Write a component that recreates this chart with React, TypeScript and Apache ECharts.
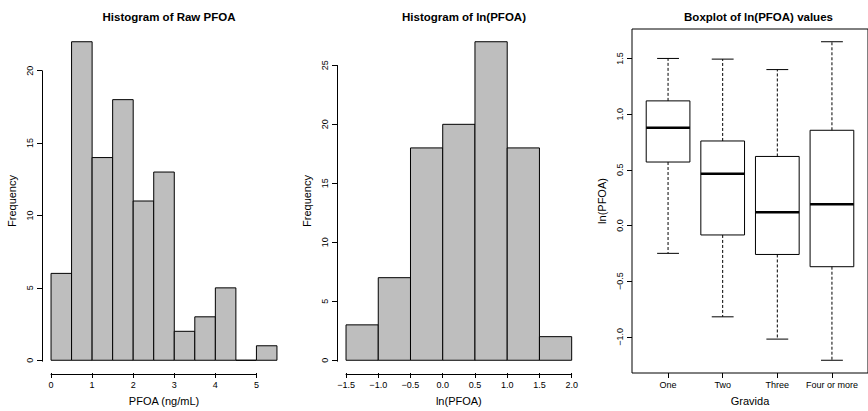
import React, { useEffect, useRef } from "react";
import * as echarts from "echarts";

// ---- data ----
const rawBinStarts = [0, 0.5, 1, 1.5, 2, 2.5, 3, 3.5, 4, 4.5, 5];
const rawCounts = [6, 22, 14, 18, 11, 13, 2, 3, 5, 0, 1];
const rawTicksX = [0, 1, 2, 3, 4, 5];
const rawTicksY = [0, 5, 10, 15, 20];

const lnBinStarts = [-1.5, -1, -0.5, 0, 0.5, 1, 1.5];
const lnCounts = [3, 7, 18, 20, 27, 18, 2];
const lnTicksX = [-1.5, -1, -0.5, 0, 0.5, 1, 1.5, 2];
const lnTicksY = [0, 5, 10, 15, 20, 25];

const categories = ["One", "Two", "Three", "Four or more"];
const boxLow = [-0.25, -0.82, -1.02, -1.21];
const boxQ1 = [0.57, -0.085, -0.26, -0.37];
const boxMedian = [0.878, 0.464, 0.12, 0.19];
const boxQ3 = [1.119, 0.759, 0.62, 0.855];
const boxHigh = [1.5, 1.494, 1.4, 1.65];
const boxTicksY = [-1, -0.5, 0, 0.5, 1, 1.5];

const FONT = "'Liberation Sans', Arial, Helvetica, sans-serif";
const BIN_W = 0.5;

const fmtNum = (v: number, d: number) => {
  const s = Math.abs(v).toFixed(d);
  return v < 0 ? "\u2212" + s : s;
};

type Range = { xMin: number; xMax: number; yMin: number; yMax: number };
type Box = { left: number; top: number; width: number; height: number };

function histRender(params: any, api: any) {
  const p0 = api.coord([api.value(0), 0]);
  const p1 = api.coord([api.value(1), api.value(2)]);
  return {
    type: "rect",
    shape: { x: p0[0], y: p1[1], width: p1[0] - p0[0], height: p0[1] - p1[1] },
    style: { fill: "#BEBEBE", stroke: "#000", lineWidth: 1 },
  };
}

function boxRender(params: any, api: any) {
  const x = api.value(0);
  const lo = api.value(1);
  const q1 = api.value(2);
  const md = api.value(3);
  const q3 = api.value(4);
  const hi = api.value(5);
  const halfBox = 0.4;
  const halfCap = 0.2;
  const c = (xx: number, yy: number) => api.coord([xx, yy]);
  const pLo = c(x, lo), pQ1 = c(x, q1), pQ3 = c(x, q3), pHi = c(x, hi);
  const bl = c(x - halfBox, q3), br = c(x + halfBox, q1);
  const ml = c(x - halfBox, md), mr = c(x + halfBox, md);
  const cl1 = c(x - halfCap, hi), cr1 = c(x + halfCap, hi);
  const cl2 = c(x - halfCap, lo), cr2 = c(x + halfCap, lo);
  const dashed = { stroke: "#000", lineWidth: 1, lineDash: [3, 2] };
  const solid = { stroke: "#000", lineWidth: 1 };
  return {
    type: "group",
    children: [
      { type: "line", shape: { x1: pQ3[0], y1: pQ3[1], x2: pHi[0], y2: pHi[1] }, style: dashed },
      { type: "line", shape: { x1: pQ1[0], y1: pQ1[1], x2: pLo[0], y2: pLo[1] }, style: dashed },
      { type: "line", shape: { x1: cl1[0], y1: cl1[1], x2: cr1[0], y2: cr1[1] }, style: solid },
      { type: "line", shape: { x1: cl2[0], y1: cl2[1], x2: cr2[0], y2: cr2[1] }, style: solid },
      {
        type: "rect",
        shape: { x: bl[0], y: bl[1], width: br[0] - bl[0], height: br[1] - bl[1] },
        style: { fill: "none", stroke: "#000", lineWidth: 1 },
      },
      { type: "line", shape: { x1: ml[0], y1: ml[1], x2: mr[0], y2: mr[1] }, style: { stroke: "#000", lineWidth: 2.5 } },
    ],
  };
}

const tickLabel = (vals: number[], fmt: (v: number) => string, rotate = 0, margin = 7) => ({
  customValues: vals,
  formatter: (v: number) => fmt(v),
  fontSize: 9,
  fontFamily: FONT,
  color: "#000",
  rotate,
  margin,
});
const tick = (vals: number[]) => ({
  show: true,
  customValues: vals,
  length: 5,
  lineStyle: { color: "#000", width: 1 },
});
const nameStyle = { fontSize: 11, fontFamily: FONT, color: "#000" };
const noLine = () => ({ show: false, onZero: false });

// R-style axis lines that only span the tick range: an extra axis-only grid per line
function axisLineGrids(g: Box, r: Range, ticksX: number[], ticksY: number[]) {
  const tx0 = ticksX[0], txN = ticksX[ticksX.length - 1];
  const ty0 = ticksY[0], tyN = ticksY[ticksY.length - 1];
  const sx = g.width / (r.xMax - r.xMin);
  const sy = g.height / (r.yMax - r.yMin);
  const xGrid = { left: g.left + (tx0 - r.xMin) * sx, width: (txN - tx0) * sx, top: g.top, height: g.height };
  const yGrid = { left: g.left, width: g.width, top: g.top + (r.yMax - tyN) * sy, height: (tyN - ty0) * sy };
  return { xGrid, yGrid, tx0, txN, ty0, tyN };
}

export default function App() {
  const ref = useRef<HTMLDivElement>(null);
  useEffect(() => {
    document.body.style.margin = "0";
    if (!ref.current) return;
    const chart = echarts.init(ref.current, undefined, { renderer: "svg" });

    const r1: Range = { xMin: -0.22, xMax: 5.72, yMin: -0.88, yMax: 22.88 };
    const r2: Range = { xMin: -1.64, xMax: 2.14, yMin: -1.08, yMax: 28.08 };
    const r3: Range = { xMin: 0.34, xMax: 4.66, yMin: -1.3244, yMax: 1.7644 };

    const g1: Box = { left: 42, top: 29, width: 244, height: 345 };
    const g2: Box = { left: 337, top: 29, width: 243.7, height: 345 };
    const g3: Box = { left: 632, top: 29, width: 243, height: 345 };

    const a1 = axisLineGrids(g1, r1, rawTicksX, rawTicksY);
    const a2 = axisLineGrids(g2, r2, lnTicksX, lnTicksY);

    const rawData = rawBinStarts.map((s, i) => [s, s + BIN_W, rawCounts[i]]);
    const lnData = lnBinStarts.map((s, i) => [s, s + BIN_W, lnCounts[i]]);
    const boxData = categories.map((_, i) => [i + 1, boxLow[i], boxQ1[i], boxMedian[i], boxQ3[i], boxHigh[i]]);

    const titleStyle = { fontSize: 11.5, fontWeight: "bold", fontFamily: FONT, color: "#000" };
    const blackLine = () => ({ show: true, onZero: false, lineStyle: { color: "#000", width: 1 } });
    const hiddenAxis = (gi: number) => ({ type: "value", gridIndex: gi, show: false, min: 0, max: 1 });
    const lineOnlyAxis = (gi: number, min: number, max: number) => ({
      type: "value", gridIndex: gi, min, max,
      axisLine: blackLine(), axisTick: { show: false }, axisLabel: { show: false }, splitLine: { show: false },
    });

    chart.setOption({
      animation: false,
      backgroundColor: "#fff",
      textStyle: { fontFamily: FONT },
      title: [
        { text: "Histogram of Raw PFOA", left: 164, top: 6, textAlign: "center", textStyle: titleStyle },
        { text: "Histogram of ln(PFOA)", left: 459, top: 6, textAlign: "center", textStyle: titleStyle },
        { text: "Boxplot of ln(PFOA) values", left: 753.5, top: 6, textAlign: "center", textStyle: titleStyle },
      ],
      grid: [
        { ...g1 },
        { ...g2 },
        { ...g3, show: true, borderColor: "#000", borderWidth: 1, backgroundColor: "transparent" },
        { ...a1.xGrid },
        { ...a1.yGrid },
        { ...a2.xGrid },
        { ...a2.yGrid },
      ],
      xAxis: [
        {
          type: "value", gridIndex: 0, min: r1.xMin, max: r1.xMax,
          axisLine: noLine(), splitLine: { show: false },
          axisTick: tick(rawTicksX), axisLabel: tickLabel(rawTicksX, (v) => String(v)),
          name: "PFOA (ng/mL)", nameLocation: "middle", nameGap: 22, nameTextStyle: nameStyle,
        },
        {
          type: "value", gridIndex: 1, min: r2.xMin, max: r2.xMax,
          axisLine: noLine(), splitLine: { show: false },
          axisTick: tick(lnTicksX), axisLabel: tickLabel(lnTicksX, (v) => fmtNum(v, 1)),
          name: "ln(PFOA)", nameLocation: "middle", nameGap: 22, nameTextStyle: nameStyle,
        },
        {
          type: "value", gridIndex: 2, min: r3.xMin, max: r3.xMax,
          axisLine: noLine(), splitLine: { show: false },
          axisTick: tick([1, 2, 3, 4]), axisLabel: tickLabel([1, 2, 3, 4], (v) => categories[Math.round(v) - 1]),
          name: "Gravida", nameLocation: "middle", nameGap: 22, nameTextStyle: nameStyle,
        },
        lineOnlyAxis(3, a1.tx0, a1.txN),
        hiddenAxis(4),
        lineOnlyAxis(5, a2.tx0, a2.txN),
        hiddenAxis(6),
      ],
      yAxis: [
        {
          type: "value", gridIndex: 0, min: r1.yMin, max: r1.yMax,
          axisLine: noLine(), splitLine: { show: false },
          axisTick: tick(rawTicksY), axisLabel: tickLabel(rawTicksY, (v) => String(v), 90, 8),
          name: "Frequency", nameLocation: "middle", nameGap: 25, nameTextStyle: nameStyle,
        },
        {
          type: "value", gridIndex: 1, min: r2.yMin, max: r2.yMax,
          axisLine: noLine(), splitLine: { show: false },
          axisTick: tick(lnTicksY), axisLabel: tickLabel(lnTicksY, (v) => String(v), 90, 8),
          name: "Frequency", nameLocation: "middle", nameGap: 25, nameTextStyle: nameStyle,
        },
        {
          type: "value", gridIndex: 2, min: r3.yMin, max: r3.yMax,
          axisLine: noLine(), splitLine: { show: false },
          axisTick: tick(boxTicksY), axisLabel: tickLabel(boxTicksY, (v) => fmtNum(v, 1), 90, 8),
          name: "ln(PFOA)", nameLocation: "middle", nameGap: 25, nameTextStyle: nameStyle,
        },
        hiddenAxis(3),
        lineOnlyAxis(4, a1.ty0, a1.tyN),
        hiddenAxis(5),
        lineOnlyAxis(6, a2.ty0, a2.tyN),
      ],
      series: [
        {
          type: "custom", xAxisIndex: 0, yAxisIndex: 0, data: rawData,
          renderItem: histRender, encode: { x: [0, 1], y: 2 }, clip: false,
        },
        {
          type: "custom", xAxisIndex: 1, yAxisIndex: 1, data: lnData,
          renderItem: histRender, encode: { x: [0, 1], y: 2 }, clip: false,
        },
        {
          type: "custom", xAxisIndex: 2, yAxisIndex: 2, data: boxData,
          renderItem: boxRender, encode: { x: 0, y: [1, 5] }, clip: false,
        },
      ],
    });
    return () => chart.dispose();
  }, []);
  return <div ref={ref} style={{ width: 868, height: 411 }} />;
}
